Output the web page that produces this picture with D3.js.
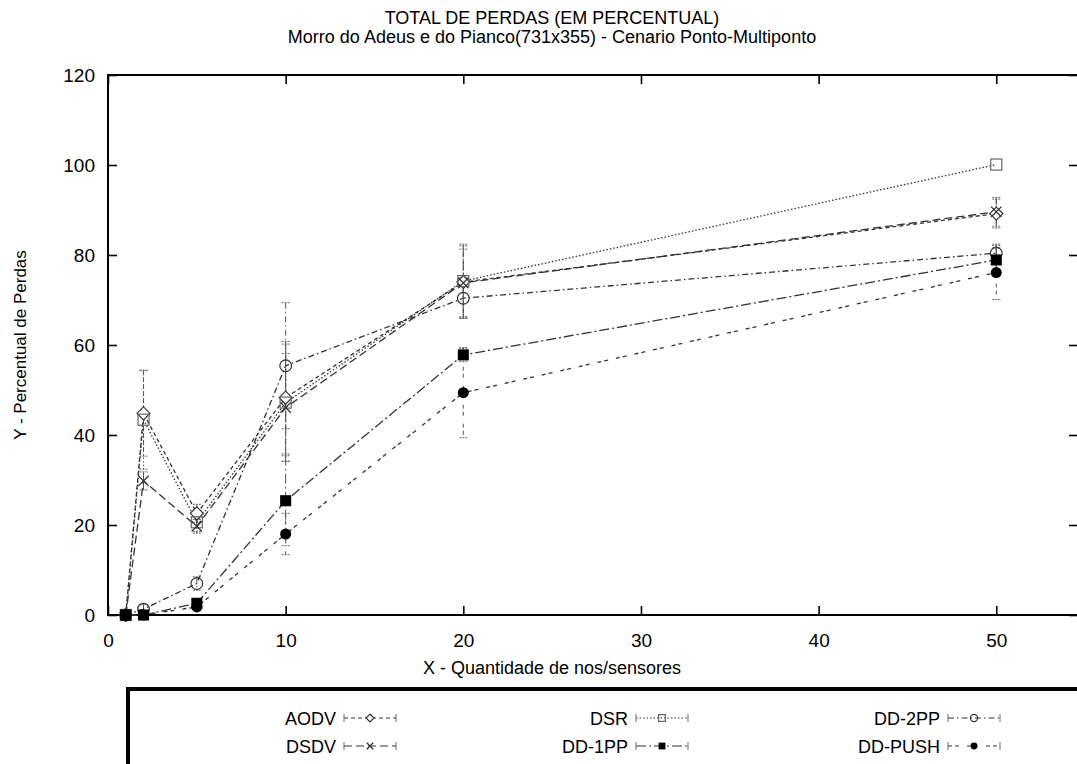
<!DOCTYPE html>
<html><head><meta charset="utf-8">
<script src="https://cdn.jsdelivr.net/npm/d3@7"></script>
<style>body{margin:0;background:#fff;} svg{display:block;} text{font-family:"Liberation Sans",Arial,sans-serif;fill:#000;}</style>
</head><body>
<svg id="chart" width="1077" height="764"></svg>
<script>
const xValues = [1, 2, 5, 10, 20, 50];
const seriesNames = ["AODV", "DSR", "DD-2PP", "DSDV", "DD-1PP", "DD-PUSH"];
const aodv   = [0, 44.8, 22.6, 48.3, 74.0, 89.2];
const dsr    = [0, 43.4, 20.6, 47.2, 74.2, 100.1];
const dd2pp  = [0, 1.3, 7.0, 55.4, 70.4, 80.4];
const dsdv   = [0, 29.8, 19.7, 46.1, 73.8, 89.6];
const dd1pp  = [0, 0, 2.6, 25.4, 57.8, 78.9];
const ddpush = [0, 0, 1.8, 18.0, 49.4, 76.1];
const aodvErr   = [0, 9.5, 2.0, 12.5, 8.0, 3.2];
const dsrErr    = [0, 11.0, 2.0, 13.0, 8.2, 0];
const dd2ppErr  = [0, 1.0, 1.5, 14.0, 4.5, 1.2];
const dsdvErr   = [0, 2.0, 1.5, 12.0, 7.5, 3.2];
const dd1ppErr  = [0, 0, 1.0, 10.0, 1.5, 3.5];
const ddpushErr = [0, 0, 0.6, 4.6, 10.0, 6.0];
const yTicks = [0, 20, 40, 60, 80, 100, 120];
const xTicks = [0, 10, 20, 30, 40, 50];
const titleLines = ["TOTAL DE PERDAS (EM PERCENTUAL)", "Morro do Adeus e do Pianco(731x355) - Cenario Ponto-Multiponto"];
const xLabel = "X - Quantidade de nos/sensores";
const yLabel = "Y - Percentual de Perdas";

const series = [
  {name: "AODV", vals: aodv, err: aodvErr, marker: "diamond", dash: "4,3"},
  {name: "DSR", vals: dsr, err: dsrErr, marker: "square", dash: "1.5,2"},
  {name: "DD-2PP", vals: dd2pp, err: dd2ppErr, marker: "circle", dash: "6,3,1.5,3"},
  {name: "DSDV", vals: dsdv, err: dsdvErr, marker: "cross", dash: "8,4"},
  {name: "DD-1PP", vals: dd1pp, err: dd1ppErr, marker: "fsquare", dash: "10,3,2,3"},
  {name: "DD-PUSH", vals: ddpush, err: ddpushErr, marker: "fcircle", dash: "4,3,4,8"}
];

const svg = d3.select("#chart");
const L = 108, R = 1078, T = 75, B = 615;
const x = d3.scaleLinear().domain([0, 54.6]).range([L, R]);
const y = d3.scaleLinear().domain([0, 120]).range([B, T]);
const lineColor = "#333";
const FS = 18;

// titles
svg.append("text").attr("x", 552).attr("y", 24).attr("text-anchor", "middle").attr("font-size", FS).attr("transform", "").text(titleLines[0]);
svg.append("text").attr("x", 552).attr("y", 43).attr("text-anchor", "middle").attr("font-size", FS).text(titleLines[1]);

// axes with inward ticks
const tickLen = 9;
const gx = svg.append("g").attr("transform", `translate(0,${B})`)
  .call(d3.axisBottom(x).tickValues(xTicks).tickSize(-tickLen).tickPadding(10 + tickLen));
const gxt = svg.append("g").attr("transform", `translate(0,${T})`)
  .call(d3.axisTop(x).tickValues(xTicks).tickSize(-tickLen).tickFormat(""));
const gy = svg.append("g").attr("transform", `translate(${L},0)`)
  .call(d3.axisLeft(y).tickValues(yTicks).tickSize(-tickLen).tickPadding(4 + tickLen));
const gyr = svg.append("g").attr("transform", `translate(${R},0)`)
  .call(d3.axisRight(y).tickValues(yTicks).tickSize(-tickLen).tickFormat(""));
[gx, gxt, gy, gyr].forEach(g => {
  g.select(".domain").remove();
  g.selectAll(".tick line").attr("stroke", "#000").attr("stroke-width", 1.6);
  g.selectAll("text").attr("font-size", 19).attr("font-family", "Liberation Sans, Arial, sans-serif");
});
svg.append("rect").attr("x", L).attr("y", T).attr("width", R - L).attr("height", B - T)
  .attr("fill", "none").attr("stroke", "#000").attr("stroke-width", 2);

svg.append("text").attr("x", 552).attr("y", 674).attr("text-anchor", "middle").attr("font-size", FS).text(xLabel);
svg.append("text").attr("transform", `translate(26,345) rotate(-90)`).attr("text-anchor", "middle").attr("font-size", 17).text(yLabel);

function drawMarker(g, type, cx, cy, s) {
  const h = s / 2;
  if (type === "diamond") {
    g.append("path").attr("d", `M${cx},${cy-h}L${cx+h},${cy}L${cx},${cy+h}L${cx-h},${cy}Z`).attr("fill", "#fff").attr("stroke", lineColor).attr("stroke-width", 1.2);
  } else if (type === "square") {
    g.append("rect").attr("x", cx - h*0.85).attr("y", cy - h*0.85).attr("width", s*0.85).attr("height", s*0.85).attr("fill", "none").attr("stroke", "#666").attr("stroke-width", 1.2);
  } else if (type === "circle") {
    g.append("circle").attr("cx", cx).attr("cy", cy).attr("r", h*0.9).attr("fill", "none").attr("stroke", lineColor).attr("stroke-width", 1.2);
  } else if (type === "cross") {
    const k = h*0.8;
    g.append("path").attr("d", `M${cx-k},${cy-k}L${cx+k},${cy+k}M${cx-k},${cy+k}L${cx+k},${cy-k}`).attr("stroke", lineColor).attr("stroke-width", 1.3);
  } else if (type === "fsquare") {
    g.append("rect").attr("x", cx - h*0.85).attr("y", cy - h*0.85).attr("width", s*0.85).attr("height", s*0.85).attr("fill", "#000");
  } else if (type === "fcircle") {
    g.append("circle").attr("cx", cx).attr("cy", cy).attr("r", h*0.85).attr("fill", "#000");
  }
}

const line = d3.line().x(d => x(d[0])).y(d => y(d[1]));
const plot = svg.append("g");
series.forEach(s => {
  const pts = xValues.map((xv, i) => [xv, s.vals[i]]);
  xValues.forEach((xv, i) => {
    const e = s.err[i];
    if (e <= 0) return;
    const cx = x(xv), y1 = y(s.vals[i] + e), y0 = y(s.vals[i] - e);
    plot.append("line").attr("x1", cx).attr("x2", cx).attr("y1", y1).attr("y2", y0)
      .attr("stroke", "#555").attr("stroke-width", 1).attr("stroke-dasharray", s.dash);
    [y1, y0].forEach(yy => plot.append("line").attr("x1", cx - 4).attr("x2", cx + 4).attr("y1", yy).attr("y2", yy)
      .attr("stroke", "#666").attr("stroke-width", 1).attr("stroke-dasharray", "2,1"));
  });
  plot.append("path").datum(pts).attr("d", line).attr("fill", "none")
    .attr("stroke", lineColor).attr("stroke-width", 1.3).attr("stroke-dasharray", s.dash);
});
series.forEach(s => {
  xValues.forEach((xv, i) => drawMarker(plot, s.marker, x(xv), y(s.vals[i]), 13));
});

// legend
const lg = svg.append("g");
lg.append("rect").attr("x", 128).attr("y", 689).attr("width", 1000).attr("height", 100)
  .attr("fill", "#fff").attr("stroke", "#000").attr("stroke-width", 4);
const colEnd = [336, 628, 940];
const rowY = [718, 746];
series.forEach((s, i) => {
  const col = i % 3, row = Math.floor(i / 3);
  const tx = colEnd[col], ty = rowY[row];
  lg.append("text").attr("x", tx).attr("y", ty + 7).attr("text-anchor", "end").attr("font-size", FS).text(s.name);
  const x0 = tx + 8, x1 = tx + 60;
  lg.append("line").attr("x1", x0).attr("x2", x1).attr("y1", ty).attr("y2", ty)
    .attr("stroke", lineColor).attr("stroke-width", 1).attr("stroke-dasharray", s.dash);
  [x0, x1].forEach(xx => lg.append("line").attr("x1", xx).attr("x2", xx).attr("y1", ty - 4).attr("y2", ty + 4).attr("stroke", "#666").attr("stroke-width", 1));
  drawMarker(lg, s.marker, (x0 + x1) / 2, ty, 8);
});
</script>
</body></html>
